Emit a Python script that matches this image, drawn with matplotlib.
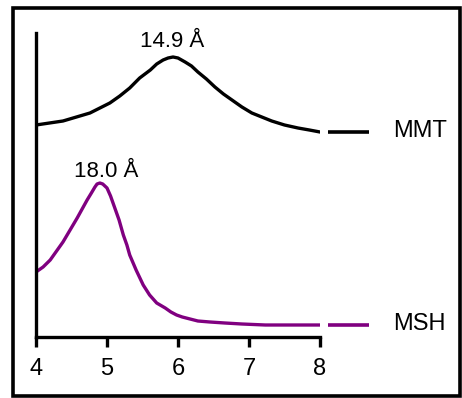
import matplotlib
matplotlib.use("Agg")
import matplotlib.pyplot as plt
from matplotlib.patches import Rectangle

plt.rcParams['font.family'] = ['Liberation Sans', 'DejaVu Sans']

# (intensity in arbitrary units)
mmt_x = [4.0, 4.19, 4.38, 4.57, 4.76, 5.04, 5.18, 5.32, 5.46, 5.61, 5.70, 5.79, 5.86, 5.93, 6.0,
         6.10, 6.19, 6.28, 6.40, 6.52, 6.64, 6.76, 6.90, 7.04, 7.18, 7.32, 7.50, 7.69, 7.85, 8.0]
mmt_y = [212, 214, 216, 220, 224, 234, 241, 249, 259, 267, 273, 277, 279, 280, 279,
         275, 271, 265, 258, 250, 243, 237, 230, 224, 220, 216, 212, 209, 207, 205]

msh_x = [4.0, 4.1, 4.2, 4.29, 4.38, 4.48, 4.58, 4.65, 4.72, 4.78, 4.83, 4.86, 4.90, 4.94, 4.97,
         5.0, 5.05, 5.11, 5.17, 5.23, 5.28, 5.32, 5.41, 5.51, 5.60, 5.70, 5.82, 5.90, 5.98,
         6.06, 6.17, 6.28, 6.45, 6.66, 6.90, 7.23, 7.6, 8.0]
msh_y = [65, 70, 77, 86, 95, 107, 119, 128, 137, 144, 150, 153, 154, 153, 151,
         149, 141, 129, 117, 102, 92, 82, 67, 52, 42, 34, 29, 25, 22,
         20, 18, 16, 15, 14, 13, 12, 12, 12]

names = ['MMT', 'MSH']
colors = ['black', '#800080']
peak_labels = ['14.9 Å', '18.0 Å']
peak_pos = [(5.92, 290), (4.99, 160)]
xticks = [4, 5, 6, 7, 8]

fig = plt.figure(figsize=(4.62, 3.98), dpi=100)
fig.patches.append(Rectangle((13 / 462, 2 / 398), 447 / 462, 388 / 398,
                             transform=fig.transFigure, fill=False,
                             edgecolor='black', linewidth=2.6))

ax = fig.add_axes([36 / 462, 61 / 398, 284 / 462, 304 / 398])

for xs, ys, c in zip([mmt_x, msh_x], [mmt_y, msh_y], colors):
    ax.plot(xs, ys, color=c, lw=2.4, solid_joinstyle='round')

for name, ys, c in zip(names, [mmt_y, msh_y], colors):
    ax.plot([8.11, 8.69], [ys[-1], ys[-1]], color=c, lw=2.6, clip_on=False,
            solid_capstyle='butt')
    ax.text(9.03, ys[-1] + 1, name, fontsize=17, va='center', ha='left')

for lab, (px, py) in zip(peak_labels, peak_pos):
    ax.text(px, py, lab, fontsize=16, ha='center', va='baseline')

ax.set_xlim(4, 8)
ax.set_ylim(0, 304)
ax.set_xticks(xticks)
ax.set_yticks([])
ax.spines['top'].set_visible(False)
ax.spines['right'].set_visible(False)
ax.spines['left'].set_linewidth(2.4)
ax.spines['bottom'].set_linewidth(2.4)
ax.tick_params(axis='x', direction='out', length=7, width=2.4, pad=8, labelsize=17)

fig.savefig('out.png', dpi=100)
